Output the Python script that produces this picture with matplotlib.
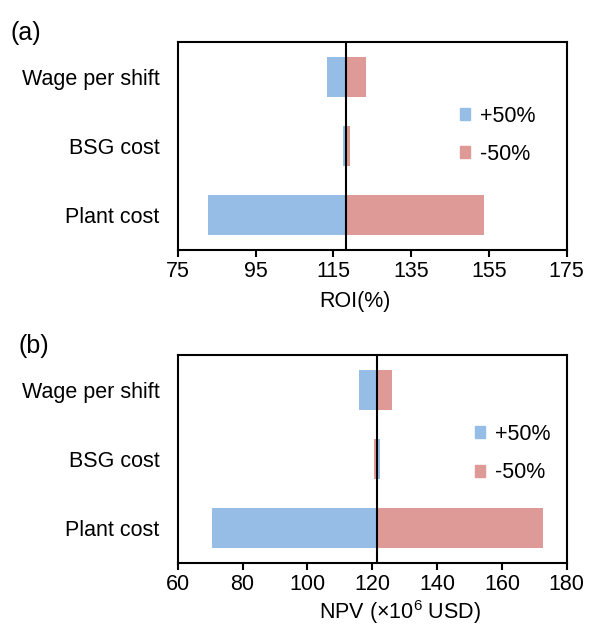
import matplotlib
matplotlib.use("Agg")
import matplotlib.pyplot as plt
from matplotlib.patches import Patch

plt.rcParams['font.family'] = ['Liberation Sans', 'DejaVu Sans']
plt.rcParams['mathtext.fontset'] = 'custom'
plt.rcParams['mathtext.rm'] = 'Liberation Sans'

categories = ["Plant cost", "BSG cost", "Wage per shift"]
roi_base = 118.2
roi_plus = [82.9, 117.5, 113.4]     # +50%
roi_minus = [153.8, 119.2, 123.3]   # -50%
npv_base = 121.6
npv_plus = [70.5, 122.5, 116.0]
npv_minus = [172.7, 120.7, 126.0]

roi_ticks = [75, 95, 115, 135, 155, 175]
npv_ticks = [60, 80, 100, 120, 140, 160, 180]

blue = "#95BDE6"
red = "#DE9A96"
FS = 15.5

fig = plt.figure(figsize=(5.89, 6.26), dpi=100)
ax1 = fig.add_axes([0.3017, 0.6006, 0.6605, 0.3318])
ax2 = fig.add_axes([0.3017, 0.1011, 0.6605, 0.3318])

def draw(ax, base, plus, minus, ticks, xlabel, label_x, label_y, leg_anchor):
    y = list(range(len(categories)))
    ax.barh(y, [p - base for p in plus], left=base, height=0.58, color=blue, label="+50%")
    ax.barh(y, [m - base for m in minus], left=base, height=0.58, color=red, label="-50%")
    ax.axvline(base, color="black", lw=1.5)
    ax.set_xlim(ticks[0], ticks[-1])
    ax.set_ylim(-0.5, 2.5)
    ax.set_xticks(ticks)
    ax.set_yticks(y)
    ax.set_yticklabels(categories)
    ax.tick_params(axis='y', length=0, labelsize=FS, pad=13)
    ax.tick_params(axis='x', direction='out', length=5, width=1.5, labelsize=FS, pad=3)
    for s in ax.spines.values():
        s.set_linewidth(1.5)
    ax.set_xlabel(xlabel, fontsize=FS)
    ax.xaxis.label.set_va('center')
    ax.xaxis.set_label_coords(label_x, label_y)
    handles = [Patch(color=blue), Patch(color=red)]
    ax.legend(handles, ["+50%", "-50%"], frameon=False, fontsize=FS,
              loc='center left', bbox_to_anchor=leg_anchor, borderaxespad=0, borderpad=0,
              handlelength=0.47, handleheight=0.47, handletextpad=0.45, labelspacing=0.8)

draw(ax1, roi_base, roi_plus, roi_minus, roi_ticks, "ROI(%)", 0.456, -0.25, (0.726, 0.552))
draw(ax2, npv_base, npv_plus, npv_minus, npv_ticks, r"NPV (×10$^6$ USD)", 0.571, -0.238, (0.764, 0.525))

fig.text(0.0433, 0.947, "(a)", fontsize=18, ha='center', va='center')
fig.text(0.0569, 0.447, "(b)", fontsize=18, ha='center', va='center')

fig.savefig("out.png", dpi=100)
